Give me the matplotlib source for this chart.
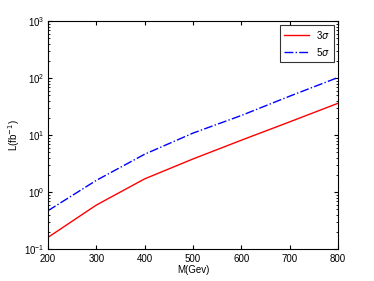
import matplotlib
matplotlib.use("Agg")
import matplotlib.pyplot as plt

mass = [200, 300, 400, 500, 600, 700, 800]
lumi_3sigma = [0.16, 0.59, 1.7, 3.8, 8.1, 17.0, 36.0]
lumi_5sigma = [0.47, 1.6, 4.6, 10.8, 22.0, 48.0, 102.0]

plt.rcParams["font.family"] = ["Liberation Sans", "DejaVu Sans"]
plt.rcParams["font.size"] = 7

fig = plt.figure(figsize=(3.74, 2.81), dpi=100)
ax = fig.add_axes([48 / 374, 1 - 249 / 281, 290 / 374, 228 / 281])

ax.semilogy(mass, lumi_3sigma, color="red", lw=1.0, label=r"3$\sigma$")
ax.semilogy(mass, lumi_5sigma, color="blue", lw=1.0, ls="-.", label=r"5$\sigma$")

ax.set_xlim(200, 800)
ax.set_ylim(0.1, 1000)
ax.set_xticks([200, 300, 400, 500, 600, 700, 800])
ax.tick_params(which="both", direction="in", top=True, right=True, labelsize=7)
ax.tick_params(axis="x", pad=3.5)
ax.tick_params(axis="y", pad=2.5)
ax.tick_params(which="major", length=3)
ax.tick_params(which="minor", length=1.5)
ax.set_xlabel("M(Gev)", fontsize=7)
ax.set_ylabel(r"L(fb$^{-1}$)", fontsize=7)
ax.xaxis.set_label_coords(0.5, -0.072)
ax.yaxis.set_label_coords(-0.088, 0.5)

leg = ax.legend(loc="upper right", fontsize=7, fancybox=False, edgecolor="black",
                handlelength=2.5, borderaxespad=0.4)
leg.get_frame().set_linewidth(0.8)

fig.savefig("out.png", dpi=100)
